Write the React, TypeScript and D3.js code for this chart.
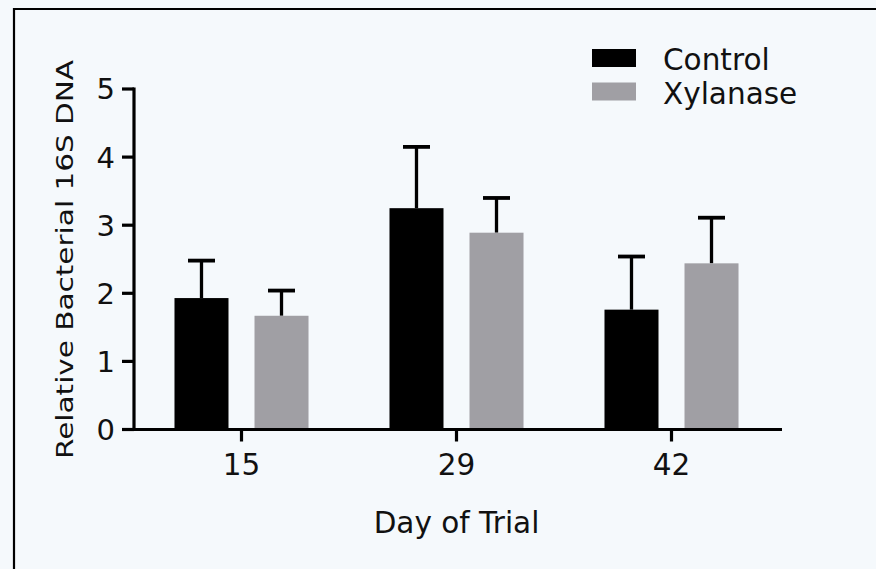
import React from "react";
import * as d3 from "d3";

const days = ["15", "29", "42"];
const seriesNames = ["Control", "Xylanase"];
const controlMeans = [1.93, 3.25, 1.76];
const controlErr = [0.55, 0.9, 0.78];
const xylanaseMeans = [1.67, 2.89, 2.44];
const xylanaseErr = [0.37, 0.51, 0.67];
const yTicks = [0, 1, 2, 3, 4, 5];

const W = 876;
const H = 569;
const FONT = "'DejaVu Sans', Verdana, sans-serif";
const colors: Record<string, string> = { Control: "#000000", Xylanase: "#a09fa4" };

export default function App() {
  const x = d3.scaleBand<string>().domain(days).range([134, 779]);
  const xs = d3
    .scaleBand<string>()
    .domain(seriesNames)
    .range([0, x.bandwidth()])
    .paddingInner(0.325)
    .paddingOuter(0.506);
  const y = d3.scaleLinear().domain([0, 5]).range([429.5, 89]);

  const series = [
    { name: "Control", means: controlMeans, errs: controlErr },
    { name: "Xylanase", means: xylanaseMeans, errs: xylanaseErr },
  ];
  const capW = 27;

  return (
    <div style={{ position: "fixed", left: 0, top: 0, width: W, height: H, overflow: "hidden" }}>
      <svg width={W} height={H} style={{ display: "block" }} fontFamily={FONT}>
        <rect x={0} y={0} width={W} height={H} fill="#f5f9fc" />
        <line x1={14} x2={14} y1={8} y2={H} stroke="#000" strokeWidth={2.2} />
        <line x1={13} x2={W} y1={9} y2={9} stroke="#000" strokeWidth={2.2} />

        {/* bars */}
        {series.map((s) =>
          s.means.map((m, i) => {
            const bx = (x(days[i]) ?? 0) + (xs(s.name) ?? 0);
            const bw = xs.bandwidth();
            const cx = bx + bw / 2;
            const top = y(m + s.errs[i]);
            return (
              <g key={s.name + i}>
                <line x1={cx} x2={cx} y1={y(m)} y2={top} stroke="#000" strokeWidth={3.3} />
                <line x1={cx - capW / 2} x2={cx + capW / 2} y1={top} y2={top} stroke="#000" strokeWidth={3.8} />
                <rect x={bx} y={y(m)} width={bw} height={y(0) - y(m)} fill={colors[s.name]} />
              </g>
            );
          })
        )}

        {/* y axis */}
        <line x1={134} x2={134} y1={y(5) - 1.5} y2={y(0) + 1.5} stroke="#000" strokeWidth={3.2} />
        {yTicks.map((t) => (
          <g key={t}>
            <line x1={122} x2={134} y1={y(t)} y2={y(t)} stroke="#000" strokeWidth={3.2} />
            <text x={115} y={y(t)} dy="0.36em" textAnchor="end" fontSize={29} fill="#111">
              {t}
            </text>
          </g>
        ))}

        {/* x axis */}
        <line x1={122} x2={782} y1={y(0)} y2={y(0)} stroke="#000" strokeWidth={3.2} />
        {days.map((d) => {
          const cx = (x(d) ?? 0) + x.bandwidth() / 2;
          return (
            <g key={d}>
              <line x1={cx} x2={cx} y1={y(0)} y2={y(0) + 12} stroke="#000" strokeWidth={3.2} />
              <text x={cx} y={474.5} textAnchor="middle" fontSize={29.5} fill="#111">
                {d}
              </text>
            </g>
          );
        })}

        <text x={456.5} y={533.3} textAnchor="middle" fontSize={29.5} fill="#111">
          Day of Trial
        </text>
        <text
          transform={`translate(73,259.5) rotate(-90)`}
          textAnchor="middle"
          fontSize={23.5}
          fill="#111"
          textLength={399}
          lengthAdjust="spacingAndGlyphs"
        >
          Relative Bacterial 16S DNA
        </text>

        {/* legend */}
        {seriesNames.map((n, i) => (
          <g key={n} transform={`translate(592,${49 + i * 33.5})`}>
            <rect x={0} y={0} width={44} height={18} fill={colors[n]} />
            <text x={71} y={21} fontSize={29.5} fill="#111">
              {n}
            </text>
          </g>
        ))}
      </svg>
    </div>
  );
}
